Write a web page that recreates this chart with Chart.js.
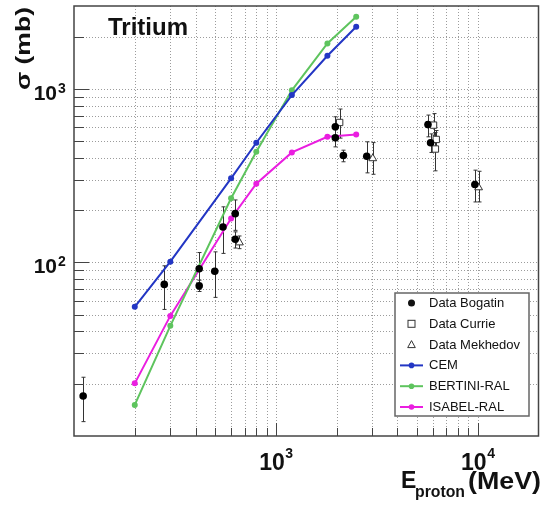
<!DOCTYPE html>
<html>
<head>
<meta charset="utf-8">
<script src="https://cdn.jsdelivr.net/npm/chart.js@4.4.0/dist/chart.umd.min.js"></script>
<style>
  html, body { margin: 0; padding: 0; background: #fff; }
  canvas { display: block; }
</style>
</head>
<body>
<canvas id="chart" width="544" height="506"></canvas>
<script>
// model curves (MeV, mb)
const modelEnergy = [200, 300, 600, 800, 1200, 1800, 2500];
const cem = [55.5, 101, 305, 489, 920, 1550, 2280];
const bertini = [15.1, 43.1, 234, 434, 980, 1825, 2600];
const isabel = [20.1, 49.2, 179, 284, 430, 529, 546];

// measured data: energy, sigma, error low / high
const bogatinE = [111, 280, 417, 417, 498, 547, 629, 629, 1970, 1970, 2160, 2820, 5670, 5840, 9680];
const bogatinSigma = [17, 74.7, 92, 73.3, 89, 160, 191, 136, 605, 522, 413, 409, 622, 489, 281];
const bogatinLo = [12.1, 53.6, 70, 68, 62.9, 112.7, 153, 121, 530, 463, 380, 328, 529, 430, 223];
const bogatinHi = [21.8, 95.6, 114, 79, 115, 209, 229, 150, 690, 580, 443, 495, 706, 550, 340];

const currieE = [2070, 6040, 6230, 6170];
const currieSigma = [640, 618, 511, 450];
const currieLo = [520, 540, 450, 337];
const currieHi = [765, 720, 575, 560];

const mekhedovE = [660, 3020, 10100];
const mekhedovSigma = [130, 397, 270];
const mekhedovLo = [120, 322, 223];
const mekhedovHi = [142, 490, 335];

// grid / tick positions
const xGrid = [200, 300, 400, 500, 600, 700, 800, 900, 1000, 2000, 3000, 4000, 5000, 6000, 7000, 8000, 9000, 10000];
const yGrid = [20, 30, 40, 50, 60, 70, 80, 90, 100, 200, 300, 400, 500, 600, 700, 800, 900, 1000, 2000];
const xLabels = [1000, 10000];
const yLabels = [100, 1000];

const blue = '#2336c4', green = '#5ec45e', magenta = '#ea1ee0';

const pts = (xs, ys) => xs.map((v, i) => ({ x: v, y: ys[i] }));

const errorSets = [
  { e: bogatinE, lo: bogatinLo, hi: bogatinHi },
  { e: currieE, lo: currieLo, hi: currieHi },
  { e: mekhedovE, lo: mekhedovLo, hi: mekhedovHi },
];

const legendItems = [
  { label: 'Data Bogatin', kind: 'circle' },
  { label: 'Data Currie', kind: 'square' },
  { label: 'Data Mekhedov', kind: 'triangle' },
  { label: 'CEM', kind: 'line', color: blue },
  { label: 'BERTINI-RAL', kind: 'line', color: green },
  { label: 'ISABEL-RAL', kind: 'line', color: magenta },
];

// draw text squeezed/stretched to a given width
function fitText(ctx, txt, x, y, w) {
  const m = ctx.measureText(txt).width;
  ctx.save();
  ctx.translate(x, y);
  ctx.scale(w / m, 1);
  ctx.fillText(txt, 0, 0);
  ctx.restore();
}

function seg(ctx, x1, y1, x2, y2) {
  ctx.beginPath(); ctx.moveTo(x1, y1); ctx.lineTo(x2, y2); ctx.stroke();
}

const decor = {
  id: 'decor',
  beforeDatasetsDraw(chart) {
    const { ctx, chartArea: a, scales: { x, y } } = chart;
    ctx.save();
    // dotted grid
    ctx.strokeStyle = '#9c9c9c';
    ctx.lineWidth = 1;
    ctx.setLineDash([1, 2]);
    xGrid.forEach(v => {
      const px = Math.round(x.getPixelForValue(v)) + 0.5;
      seg(ctx, px, a.top, px, a.bottom);
    });
    yGrid.forEach(v => {
      const py = Math.round(y.getPixelForValue(v)) + 0.5;
      seg(ctx, a.left, py, a.right, py);
    });
    ctx.setLineDash([]);
    // error bars
    ctx.strokeStyle = '#333';
    errorSets.forEach(s => s.e.forEach((e, i) => {
      const px = Math.round(x.getPixelForValue(e)) + 0.5;
      const top = y.getPixelForValue(s.hi[i]);
      const bot = y.getPixelForValue(s.lo[i]);
      seg(ctx, px, top, px, bot);
      seg(ctx, px - 2, top, px + 2, top);
      seg(ctx, px - 2, bot, px + 2, bot);
    }));
    ctx.restore();
  },
  afterDraw(chart) {
    const { ctx, chartArea: a, scales: { x, y } } = chart;
    ctx.save();
    // frame
    ctx.strokeStyle = '#444';
    ctx.lineWidth = 1.5;
    ctx.strokeRect(a.left, a.top, a.right - a.left, a.bottom - a.top);
    // ticks
    ctx.lineWidth = 1;
    xGrid.forEach(v => {
      const px = Math.round(x.getPixelForValue(v)) + 0.5;
      const len = xLabels.includes(v) ? 13 : 8;
      seg(ctx, px, a.bottom, px, a.bottom - len);
    });
    yGrid.forEach(v => {
      const py = Math.round(y.getPixelForValue(v)) + 0.5;
      const len = yLabels.includes(v) ? 15 : 10;
      seg(ctx, a.left, py, a.left + len, py);
    });

    ctx.fillStyle = '#111';
    ctx.textBaseline = 'alphabetic';
    // x tick labels
    xLabels.forEach(v => {
      const px = x.getPixelForValue(v);
      const exp = String(Math.round(Math.log10(v)));
      ctx.font = 'bold 23px "Liberation Sans", Arial, sans-serif';
      const w1 = ctx.measureText('10').width;
      ctx.font = 'bold 14px "Liberation Sans", Arial, sans-serif';
      const w2 = ctx.measureText(exp).width;
      const x0 = px - (w1 + w2) / 2;
      ctx.textAlign = 'left';
      ctx.font = 'bold 23px "Liberation Sans", Arial, sans-serif';
      ctx.fillText('10', x0, 470);
      ctx.font = 'bold 14px "Liberation Sans", Arial, sans-serif';
      ctx.fillText(exp, x0 + w1 + 0.5, 458);
    });
    // y tick labels
    yLabels.forEach(v => {
      const py = y.getPixelForValue(v);
      const exp = String(Math.round(Math.log10(v)));
      ctx.textAlign = 'right';
      ctx.font = 'bold 21px "Liberation Sans", Arial, sans-serif';
      ctx.fillText('10', 57, py + 11);
      ctx.textAlign = 'left';
      ctx.font = 'bold 14px "Liberation Sans", Arial, sans-serif';
      ctx.fillText(exp, 58, py + 4);
    });

    // axis titles
    ctx.textAlign = 'left';
    ctx.font = 'bold 23px "Liberation Sans", Arial, sans-serif';
    ctx.fillText('E', 401, 488);
    ctx.font = 'bold 16px "Liberation Sans", Arial, sans-serif';
    fitText(ctx, 'proton', 415, 497, 50);
    ctx.font = 'bold 23px "Liberation Sans", Arial, sans-serif';
    fitText(ctx, '(MeV)', 468, 489, 73);

    ctx.save();
    ctx.translate(30, 90);
    ctx.rotate(-Math.PI / 2);
    ctx.font = 'bold 21px "Liberation Sans", Arial, sans-serif';
    fitText(ctx, 'σ (mb)', 0, 0, 83);
    ctx.restore();

    // panel title
    ctx.font = 'bold 24px "Liberation Sans", Arial, sans-serif';
    ctx.fillText('Tritium', 108, 35);

    // legend
    const lx = 395, ly = 293, lw = 134, lh = 123;
    ctx.fillStyle = '#fff';
    ctx.fillRect(lx, ly, lw, lh);
    ctx.strokeStyle = '#666';
    ctx.lineWidth = 1.5;
    ctx.strokeRect(lx, ly, lw, lh);
    ctx.font = '13px "Liberation Sans", Arial, sans-serif';
    ctx.textBaseline = 'middle';
    legendItems.forEach((it, i) => {
      const ry = 303 + i * 20.8;
      const sx = 411.5;
      ctx.lineWidth = 1;
      ctx.strokeStyle = '#333';
      ctx.fillStyle = '#111';
      if (it.kind === 'circle') {
        ctx.beginPath(); ctx.arc(sx, ry, 3.5, 0, Math.PI * 2); ctx.fill();
      } else if (it.kind === 'square') {
        ctx.strokeRect(sx - 3.5, ry - 3.5, 7, 7);
      } else if (it.kind === 'triangle') {
        ctx.beginPath();
        ctx.moveTo(sx, ry - 4); ctx.lineTo(sx + 3.8, ry + 3); ctx.lineTo(sx - 3.8, ry + 3);
        ctx.closePath(); ctx.stroke();
      } else {
        ctx.strokeStyle = it.color;
        ctx.fillStyle = it.color;
        ctx.lineWidth = 2;
        seg(ctx, 400, ry, 423, ry);
        ctx.beginPath(); ctx.arc(sx, ry, 2.8, 0, Math.PI * 2); ctx.fill();
      }
      ctx.fillStyle = '#111';
      ctx.fillText(it.label, 429, ry + 0.5);
    });
    ctx.restore();
  }
};

const lineSet = (label, ys, color) => ({
  label,
  data: pts(modelEnergy, ys),
  showLine: true,
  borderColor: color,
  backgroundColor: color,
  borderWidth: 2,
  pointRadius: 3,
  pointBorderWidth: 0,
  tension: 0,
});

new Chart(document.getElementById('chart'), {
  type: 'scatter',
  data: {
    datasets: [
      {
        label: 'Data Bogatin',
        data: pts(bogatinE, bogatinSigma),
        pointStyle: 'circle',
        pointRadius: 3.8,
        backgroundColor: '#000',
        borderColor: '#000',
        borderWidth: 0,
      },
      {
        label: 'Data Currie',
        data: pts(currieE, currieSigma),
        pointStyle: 'rect',
        pointRadius: 4.5,
        backgroundColor: '#fff',
        borderColor: '#333',
        borderWidth: 1,
      },
      {
        label: 'Data Mekhedov',
        data: pts(mekhedovE, mekhedovSigma),
        pointStyle: 'triangle',
        pointRadius: 4.5,
        backgroundColor: '#fff',
        borderColor: '#333',
        borderWidth: 1,
      },
      lineSet('CEM', cem, blue),
      lineSet('BERTINI-RAL', bertini, green),
      lineSet('ISABEL-RAL', isabel, magenta),
    ],
  },
  options: {
    responsive: false,
    animation: false,
    layout: { padding: { top: 6, right: 3, left: 0, bottom: 0 } },
    scales: {
      x: {
        type: 'logarithmic',
        min: 100,
        max: 20000,
        grid: { display: false },
        border: { display: false },
        ticks: { display: false },
        afterBuildTicks: s => { s.ticks = xGrid.map(v => ({ value: v })); },
        afterFit: s => { s.height = 70; },
      },
      y: {
        type: 'logarithmic',
        min: 10,
        max: 3000,
        grid: { display: false },
        border: { display: false },
        ticks: { display: false },
        afterBuildTicks: s => { s.ticks = yGrid.map(v => ({ value: v })); },
        afterFit: s => { s.width = 74; },
      },
    },
    plugins: {
      legend: { display: false },
      tooltip: { enabled: false },
    },
  },
  plugins: [decor],
});
</script>
</body>
</html>
